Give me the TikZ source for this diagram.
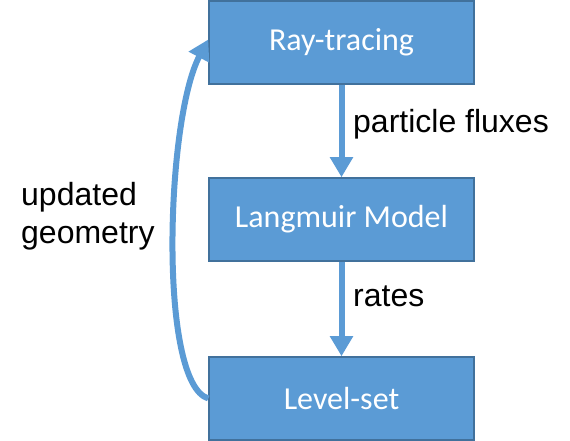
\documentclass[tikz,border=0pt]{standalone}
\usepackage{fontspec}
\setmainfont{Liberation Sans}
\newfontfamily\boxfont{Carlito}
\usetikzlibrary{positioning,arrows.meta}
\definecolor{boxblue}{HTML}{5B9BD5}
\definecolor{boxedge}{HTML}{41719C}
\tikzset{
  flowarrow/.style={-{Triangle[length=20pt, width=22pt]}, line width=6pt, boxblue},
  stepbox/.style={draw=boxedge, line width=1.5pt, fill=boxblue, minimum width=265pt, minimum height=83pt, align=center, text=white, font=\boxfont\fontsize{32}{38}\selectfont},
  relabel/.style={font=\fontsize{32}{38}\selectfont, inner sep=0pt, text=black}
}
\begin{document}
\begin{tikzpicture}[x=1pt, y=1pt]
  \useasboundingbox (0,0) rectangle (570,441);
  \node[stepbox] (ray) at (341.5,398.5) {Ray-tracing};
  \node[stepbox] (lang) at (341.5,221.5) {Langmuir Model};
  \node[stepbox] (lvl) at (341.5,42.5) {Level-set};
  \draw[flowarrow] (ray) -- (lang);
  \draw[flowarrow] (lang) -- (lvl);
  \draw[flowarrow] (lvl.west) .. controls (158,58) and (166,322) .. ([yshift=3pt]ray.west);
  \node[relabel, anchor=base west] (flux) at (353,308) {particle fluxes};
  \node[relabel, anchor=base west] (rate) at (353,134) {rates};
  \node[relabel, anchor=base west, align=left] (geom) at (21,197) {updated\\geometry};
\end{tikzpicture}
\end{document}
